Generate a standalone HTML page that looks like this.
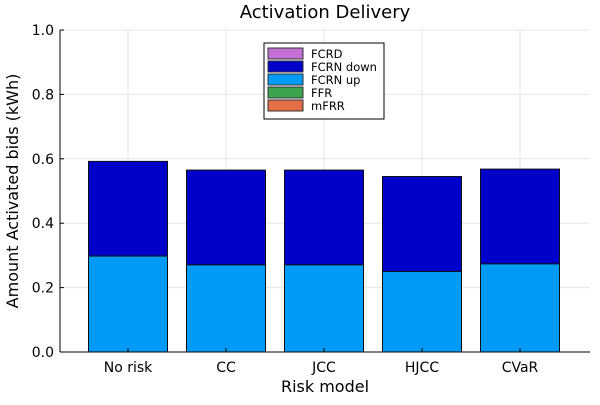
<!DOCTYPE html>
<html><head><meta charset="utf-8"><style>
body{margin:0;background:#fff;font-family:"Liberation Sans","DejaVu Sans",sans-serif;}
svg text{font-family:"DejaVu Sans","Liberation Sans",sans-serif;}
</style></head><body>
<svg id="chart" width="600" height="400" xmlns="http://www.w3.org/2000/svg">
<rect width="600" height="400" fill="#fff"/>
<text x="325" y="18" text-anchor="middle" font-size="18" fill="#000">Activation Delivery</text>
<g id="grid"></g><g id="bars"></g><g id="axes"></g>
<text x="325" y="392" text-anchor="middle" font-size="16">Risk model</text>
<text transform="translate(18,191) rotate(-90)" text-anchor="middle" font-size="16">Amount Activated bids (kWh)</text>
<g id="legend">
<rect x="264" y="43" width="120" height="76" fill="#fff" stroke="#000" stroke-width="1"/>
</g>
</svg>
<script>
const categories=["No risk","CC","JCC","HJCC","CVaR"];
const fcrnUp=[0.298,0.271,0.271,0.25,0.274];
const fcrnDown=[0.294,0.294,0.294,0.295,0.294];
const yTicks=[0,0.2,0.4,0.6,0.8,1.0];
const yTickLabels=["0.0","0.2","0.4","0.6","0.8","1.0"];
const legendLabels=["FCRD","FCRN down","FCRN up","FFR","mFRR"];
const legendColors=["#c271d2","#0000c8","#009af9","#3da44d","#e26f46"];
const NS="http://www.w3.org/2000/svg";
const L=60,R=590,T=30,B=352;
const y=v=>B-(B-T)*v;
const x=i=>128+98*i;
const bw=79;
function mk(tag,attrs,parent,txt){const e=document.createElementNS(NS,tag);for(const k in attrs)e.setAttribute(k,attrs[k]);if(txt!==undefined)e.textContent=txt;parent.appendChild(e);return e;}
const grid=document.getElementById('grid'),bars=document.getElementById('bars'),axes=document.getElementById('axes'),leg=document.getElementById('legend');
yTicks.forEach((v,i)=>{
 const g=mk('line',{x1:L,x2:R,y1:y(v),y2:y(v),stroke:'#e6e6e6','stroke-width':1},grid);
 
 
 const t=mk('text',{x:L-6,y:y(v)+5,'text-anchor':'end','font-size':14},axes,yTickLabels[i]);
 
 
 mk('line',{x1:L,x2:L+4,y1:y(v),y2:y(v),stroke:'#000'},axes);
});
categories.forEach((c,i)=>{
 const g=mk('line',{x1:x(i),x2:x(i),y1:T,y2:B,stroke:'#e6e6e6','stroke-width':1},grid);
 
 
 const b1=mk('rect',{x:x(i)-bw/2,y:y(fcrnUp[i]),width:bw,height:y(0)-y(fcrnUp[i]),fill:'#009af9',stroke:'#111','stroke-width':1},bars);
 
 
 const tot=fcrnUp[i]+fcrnDown[i];
 const b2=mk('rect',{x:x(i)-bw/2,y:y(tot),width:bw,height:y(fcrnUp[i])-y(tot),fill:'#0000c8',stroke:'#111','stroke-width':1},bars);
 
 
 const t=mk('text',{x:x(i),y:B+20,'text-anchor':'middle','font-size':14},axes,c);
 
 
 mk('line',{x1:x(i),x2:x(i),y1:B,y2:B-4,stroke:'#000'},axes);
});
mk('line',{x1:L,x2:L,y1:T,y2:B,stroke:'#000'},axes);
mk('line',{x1:L,x2:R,y1:B,y2:B,stroke:'#000'},axes);
legendLabels.forEach((l,i)=>{
 const yy=48+13*i;
 const s=mk('rect',{x:268,y:yy,width:35,height:11,fill:legendColors[i],stroke:'#333'},leg);
 
 
 const t=mk('text',{x:311,y:yy+10,'font-size':11.5},leg,l);
 
 
});
</script>
</body></html>
